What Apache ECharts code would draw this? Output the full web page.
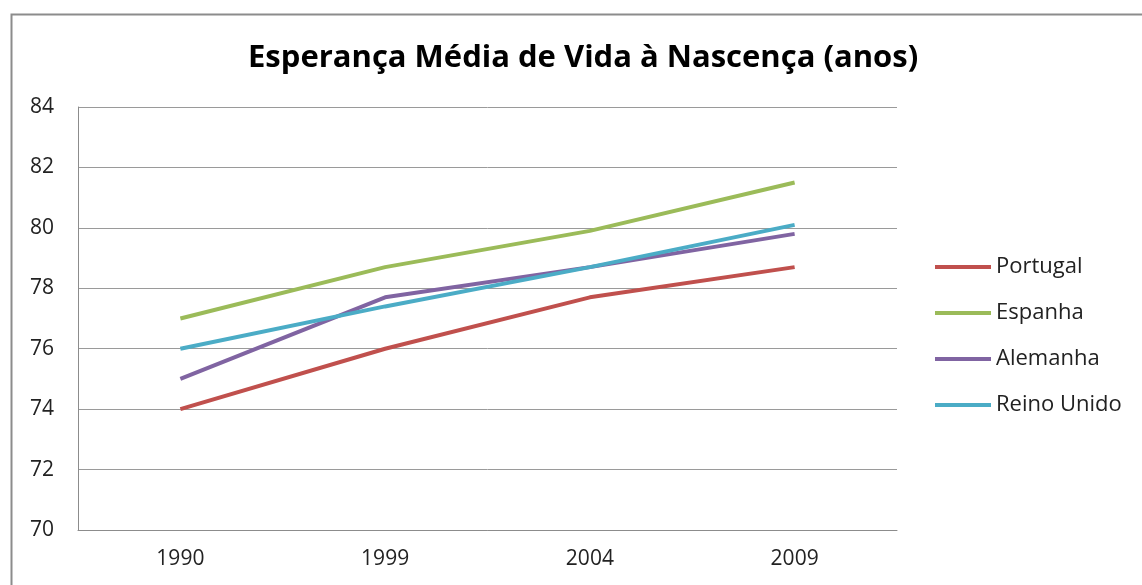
<!DOCTYPE html>
<html>
<head>
<meta charset="utf-8">
<script src="https://cdn.jsdelivr.net/npm/echarts@6/dist/echarts.min.js"></script>
<style>
  html, body { margin: 0; padding: 0; background: #fff; overflow: hidden; }
  #chart { width: 1142px; height: 585px; }
</style>
</head>
<body>
<div id="chart"></div>
<script>
const anos = ['1990', '1999', '2004', '2009']
const portugal = [74.0, 76.0, 77.7, 78.7]
const espanha = [77.0, 78.7, 79.9, 81.5]
const alemanha = [75.0, 77.7, 78.7, 79.8]
const reinoUnido = [76.0, 77.4, 78.7, 80.1]

const fonte = 'Open Sans, Liberation Sans, sans-serif'
const chart = echarts.init(document.getElementById('chart'))

const linha = (name, data, color) => ({
  name: name,
  type: 'line',
  data: data,
  symbol: 'none',
  lineStyle: { width: 4, color: color },
  itemStyle: { color: color },
})

chart.setOption({
  animation: false,
  backgroundColor: '#fff',
  graphic: [
    {
      type: 'rect',
      left: 9,
      top: 12,
      shape: { width: 1300, height: 700 },
      style: { fill: 'none', stroke: '#8c8c8c', lineWidth: 2 },
      silent: true,
    },
  ],
  title: {
    text: 'Esperança Média de Vida à Nascença (anos)',
    left: 243,
    top: 38,
    textStyle: { fontFamily: fonte, fontSize: 31, fontWeight: 'bold', color: '#000' },
  },
  legend: {
    orient: 'vertical',
    left: 930,
    top: 251,
    itemWidth: 56,
    itemHeight: 4,
    itemGap: 24,
    icon: 'rect',
    textStyle: { fontFamily: fonte, fontSize: 22, color: '#222', padding: [0, 0, 0, 0] },
    data: ['Portugal', 'Espanha', 'Alemanha', 'Reino Unido'],
  },
  grid: { left: 78, right: 245, top: 107, bottom: 55 },
  xAxis: {
    type: 'category',
    data: anos,
    boundaryGap: true,
    axisLine: { lineStyle: { color: '#8c8c8c', width: 1 } },
    axisTick: { show: false },
    axisLabel: { fontFamily: fonte, fontSize: 21, color: '#222', margin: 19 },
  },
  yAxis: {
    type: 'value',
    min: 70,
    max: 84,
    interval: 2,
    axisLine: { show: true, lineStyle: { color: '#8c8c8c', width: 1 } },
    axisTick: { show: false },
    splitLine: { lineStyle: { color: '#9a9a9a', width: 1 } },
    axisLabel: { fontFamily: fonte, fontSize: 21, color: '#222', margin: 24 },
  },
  series: [
    linha('Portugal', portugal, '#C0504D'),
    linha('Espanha', espanha, '#9BBB59'),
    linha('Alemanha', alemanha, '#8064A2'),
    linha('Reino Unido', reinoUnido, '#4BACC6'),
  ],
})
</script>
</body>
</html>
